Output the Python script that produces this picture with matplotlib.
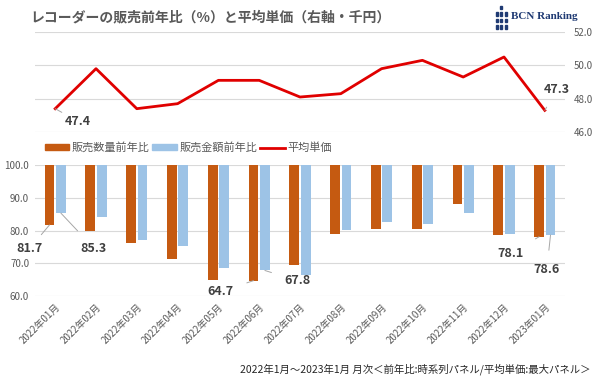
import matplotlib
matplotlib.use("Agg")
import matplotlib.pyplot as plt
from matplotlib.patches import Patch
from matplotlib.lines import Line2D
import numpy as np

plt.rcParams['font.family'] = ['Noto Sans CJK JP', 'DejaVu Sans']

# =========================
# DATA
# =========================
months = ["2022年01月", "2022年02月", "2022年03月", "2022年04月", "2022年05月",
          "2022年06月", "2022年07月", "2022年08月", "2022年09月", "2022年10月",
          "2022年11月", "2022年12月", "2023年01月"]
qty_yoy = [81.7, 79.9, 76.1, 71.3, 64.9, 64.7, 69.6, 78.9, 80.6, 80.6, 88.1, 78.7, 78.1]
amt_yoy = [85.3, 84.1, 77.1, 75.2, 68.7, 67.8, 66.4, 80.3, 82.7, 82.0, 85.3, 78.8, 78.6]
avg_price = [47.4, 49.8, 47.4, 47.7, 49.1, 49.1, 48.1, 48.3, 49.8, 50.3, 49.3, 50.5, 47.3]

title = "レコーダーの販売前年比（%）と平均単価（右軸・千円）"
footer = "2022年1月～2023年1月 月次＜前年比:時系列パネル/平均単価:最大パネル＞"
legend_labels = ["販売数量前年比", "販売金額前年比", "平均単価"]

ORANGE = "#C55A11"
BLUE = "#9DC3E6"
RED = "#E00000"
GRID = "#D9D9D9"
TXT = "#595959"
LBL = "#404040"
NAVY = "#1F3A73"

x = np.arange(len(months))

fig = plt.figure(figsize=(6, 3.81), dpi=100)

# =========================
# TOP: average price (right axis)
# =========================
ax1 = fig.add_axes([0.058, 0.6535, 0.884, 0.2625])
ax1.plot(x, avg_price, color=RED, lw=2)
ax1.set_xlim(-0.5, 12.5)
ax1.set_ylim(46, 52)
ax1.set_yticks([46, 48, 50, 52])
ax1.set_yticklabels([f"{v:.1f}" for v in [46, 48, 50, 52]])
ax1.yaxis.tick_right()
ax1.tick_params(axis='y', length=0, labelsize=7, colors=TXT, pad=6)
ax1.set_xticks([])
ax1.grid(axis='y', color=GRID, lw=0.8)
for s in ax1.spines.values():
    s.set_visible(False)

ax1.annotate(f"{avg_price[0]:.1f}", xy=(x[0], avg_price[0]), xytext=(x[0] + 0.55, 46.65),
             fontsize=9, fontweight='bold', color=LBL, ha='center', va='center',
             arrowprops=dict(arrowstyle='-', color='#A6A6A6', lw=0.7, shrinkA=10, shrinkB=0))
ax1.annotate(f"{avg_price[-1]:.1f}", xy=(x[-1], avg_price[-1]), xytext=(x[-1] + 0.3, 48.55),
             fontsize=9, fontweight='bold', color=LBL, ha='center', va='center',
             arrowprops=dict(arrowstyle='-', color='#A6A6A6', lw=0.7, shrinkA=7, shrinkB=0))

# =========================
# BOTTOM: YoY bars hanging from 100
# =========================
ax2 = fig.add_axes([0.058, 0.223, 0.884, 0.344])
w = 0.24
ax2.bar(x - 0.14, np.array(qty_yoy) - 100, bottom=100, width=w, color=ORANGE, zorder=3)
ax2.bar(x + 0.14, np.array(amt_yoy) - 100, bottom=100, width=w, color=BLUE, zorder=3)
ax2.set_xlim(-0.5, 12.5)
ax2.set_ylim(60, 100)
ax2.set_yticks([60, 70, 80, 90, 100])
ax2.set_yticklabels([f"{v:.1f}" for v in [60, 70, 80, 90, 100]])
ax2.tick_params(axis='y', length=0, labelsize=7, colors=TXT, pad=4)
ax2.set_xticks(x)
ax2.set_xticklabels(months, rotation=45, ha='right', rotation_mode='anchor')
ax2.tick_params(axis='x', length=0, labelsize=7, colors=TXT, pad=4)
ax2.grid(axis='y', color=GRID, lw=0.8, zorder=0)
for s in ax2.spines.values():
    s.set_visible(False)

lbl = dict(fontsize=9, fontweight='bold', color=LBL, ha='center', va='center')
arr = dict(arrowstyle='-', color='#A6A6A6', lw=0.7, shrinkA=8, shrinkB=0)
ax2.annotate(f"{qty_yoy[0]:.1f}", xy=(x[0] - 0.14, qty_yoy[0]), xytext=(x[0] - 0.62, 74.6), **lbl,
             arrowprops=dict(arr, shrinkA=4))
ax2.annotate(f"{amt_yoy[0]:.1f}", xy=(x[0] + 0.14, amt_yoy[0]), xytext=(x[0] + 0.95, 74.6), **lbl,
             arrowprops=arr)
ax2.annotate(f"{qty_yoy[5]:.1f}", xy=(x[5] - 0.14, qty_yoy[5]), xytext=(x[5] - 0.95, 61.3), **lbl,
             arrowprops=arr)
ax2.annotate(f"{amt_yoy[5]:.1f}", xy=(x[5] + 0.14, amt_yoy[5]), xytext=(x[5] + 0.95, 64.6), **lbl,
             arrowprops=arr)
ax2.annotate(f"{qty_yoy[12]:.1f}", xy=(x[12] - 0.14, qty_yoy[12]), xytext=(x[12] - 0.85, 72.9), **lbl,
             arrowprops=arr)
ax2.annotate(f"{amt_yoy[12]:.1f}", xy=(x[12] + 0.14, amt_yoy[12]), xytext=(x[12] + 0.05, 68.2), **lbl,
             arrowprops=dict(arr, shrinkA=7))

# legend
handles = [Patch(color=ORANGE), Patch(color=BLUE), Line2D([0], [0], color=RED, lw=2)]
fig.legend(handles, legend_labels, loc='center left', bbox_to_anchor=(0.065, 0.612), ncol=3,
           frameon=False, fontsize=8, labelcolor=TXT, handlelength=2.2, handleheight=0.5,
           handletextpad=0.2, columnspacing=0.3, borderpad=0)

# title + logo + footer
fig.text(0.05, 0.955, title, fontsize=10, color=TXT, fontweight='bold', va='center')
fig.text(0.852, 0.958, "BCN Ranking", fontsize=8, color=NAVY, va='center', fontweight='bold',
         family=['Liberation Serif'])
for i in range(3):
    for j in range(4):
        if i != 1 and j == 3:
            continue
        fig.patches.append(plt.Rectangle((0.826 + i * 0.0075, 0.925 + j * 0.017), 0.004, 0.009,
                                         transform=fig.transFigure, color=NAVY))
fig.text(0.985, 0.03, footer, fontsize=7.5, color="#262626", ha='right', va='center')

fig.savefig("out.png", dpi=100, facecolor='white')
